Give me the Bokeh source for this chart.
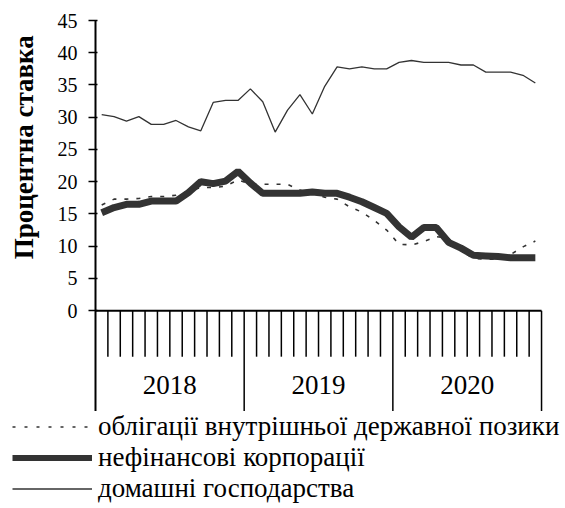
import math
from bokeh.plotting import figure
from bokeh.models import Range1d, FixedTicker, Legend, LegendItem
from bokeh.layouts import column, row
from bokeh.core.properties import value
from bokeh.embed import file_html
from bokeh.resources import INLINE

# ---- data -------------------------------------------------------------
years = ["2018", "2019", "2020"]
n_months = 36
bonds = [16.4, 17.3, 17.3, 17.4, 17.7, 17.7, 17.9, 18.5, 19.1, 19.1, 19.3, 20.3,
         19.6, 19.6, 19.6, 19.6, 18.7, 18.2, 17.6, 17.3, 16.1, 15.3, 14.0, 12.5,
         10.3, 10.2, 10.7, 11.5, 11.2, 9.3, 8.1, 8.0, 8.0, 8.7, 9.9, 10.8]
corps = [15.2, 16.0, 16.5, 16.5, 17.0, 17.0, 17.0, 18.3, 20.0, 19.7, 20.1, 21.6,
         19.8, 18.2, 18.2, 18.2, 18.2, 18.4, 18.2, 18.2, 17.6, 16.9, 16.0, 15.1,
         13.0, 11.4, 12.9, 12.9, 10.6, 9.7, 8.6, 8.5, 8.4, 8.2, 8.2, 8.2]
households = [30.4, 30.1, 29.4, 30.1, 28.9, 28.9, 29.5, 28.5, 27.9, 32.3, 32.6, 32.6,
              34.4, 32.4, 27.7, 31.1, 33.5, 30.5, 34.8, 37.8, 37.5, 37.8, 37.5, 37.5,
              38.5, 38.8, 38.5, 38.5, 38.5, 38.1, 38.1, 37.0, 37.0, 37.0, 36.5, 35.3]
y_ticks = [0, 5, 10, 15, 20, 25, 30, 35, 40, 45]
legend_labels = ["облігації внутрішньої державної позики",
                 "нефінансові корпорації",
                 "домашні господарства"]
y_title = "Процентна ставка"

FONT = "Liberation Serif"
COL = "#333333"

x = [i + 0.5 for i in range(n_months)]
Y_MIN = -15.63          # bottom of the category-axis area
MONTH_TICK = -7.13      # length of the short month ticks (data units)
YEAR_LABEL_Y = -11.45

yr = Range1d(Y_MIN, 45)

# ---- left strip: y-axis title -----------------------------------------
pt = figure(width=45, height=411, output_backend="svg", toolbar_location=None,
            x_range=Range1d(0, 45), y_range=yr,
            x_axis_location=None, y_axis_location=None,
            min_border_left=0, min_border_right=0, min_border_top=20,
            min_border_bottom=0)
pt.outline_line_color = None
pt.grid.visible = False
pt.text(x=[23], y=[25.35], text=[y_title], angle=math.pi / 2,
        text_align="center", text_baseline="middle", text_font=value(FONT),
        text_font_size="27px", text_font_style="bold", text_color="black")

# ---- main chart ---------------------------------------------------------
p = figure(width=520, height=411, output_backend="svg", toolbar_location=None,
           x_range=Range1d(0, 36.32), y_range=yr, x_axis_location=None,
           min_border_left=50, min_border_right=20, min_border_top=20,
           min_border_bottom=0)
p.outline_line_color = None
p.grid.visible = False

ya = p.yaxis[0]
ya.ticker = FixedTicker(ticks=y_ticks)
ya.axis_line_color = "black"
ya.axis_line_width = 2
ya.major_tick_line_width = 1.5
ya.major_tick_out = 7
ya.major_tick_in = 2
ya.minor_tick_line_color = None
ya.major_label_text_font = FONT
ya.major_label_text_font_size = "20px"
ya.major_label_text_color = "black"
ya.major_label_standoff = 11

# category axis at y = 0: line, month ticks, year separators, year labels
month_bounds = [m for m in range(1, n_months) if m % 12 != 0]
year_bounds = [12 * k for k in range(1, len(years) + 1)]
p.segment(x0=[0], y0=[0], x1=[n_months], y1=[0], line_color="black", line_width=2)
p.segment(x0=month_bounds, y0=[0] * len(month_bounds), x1=month_bounds,
          y1=[MONTH_TICK] * len(month_bounds), line_color="black", line_width=1.5)
p.segment(x0=year_bounds, y0=[0] * len(year_bounds), x1=year_bounds,
          y1=[Y_MIN] * len(year_bounds), line_color="black", line_width=1.5)
p.text(x=[12 * k + 6 for k in range(len(years))], y=[YEAR_LABEL_Y] * len(years),
       text=years, text_align="center", text_baseline="middle",
       text_font=value(FONT), text_font_size="27px", text_color="black")

# series
p.line(x, bonds, line_color=COL, line_width=1.6, line_dash="4 8")
p.line(x, corps, line_color=COL, line_width=7)
p.line(x, households, line_color=COL, line_width=1.3)

# ---- legend strip -------------------------------------------------------
# the series are plotted again here only to feed the legend; the strip's
# ranges keep them out of view
pl = figure(width=565, height=97, output_backend="svg", toolbar_location=None,
            x_range=Range1d(-200, -199), y_range=Range1d(-200, -199),
            x_axis_location=None, y_axis_location=None, min_border=0)
pl.outline_line_color = None
pl.grid.visible = False
lb = pl.line(x, bonds, line_color=COL, line_width=1.6, line_dash="3 9")
lc = pl.line(x, corps, line_color=COL, line_width=6)
lh = pl.line(x, households, line_color=COL, line_width=1.3)
legend = Legend(items=[LegendItem(label=legend_labels[0], renderers=[lb]),
                       LegendItem(label=legend_labels[1], renderers=[lc]),
                       LegendItem(label=legend_labels[2], renderers=[lh])],
                location=(12, 4), orientation="vertical",
                glyph_width=80, glyph_height=25, label_height=25, spacing=0,
                padding=0, margin=0, label_standoff=6,
                label_text_font=FONT, label_text_font_size="27px",
                label_text_color="black",
                border_line_color=None, background_fill_alpha=0)
pl.add_layout(legend)

layout = column(row(pt, p), pl)
open("out.html", "w").write(file_html(layout, INLINE))
